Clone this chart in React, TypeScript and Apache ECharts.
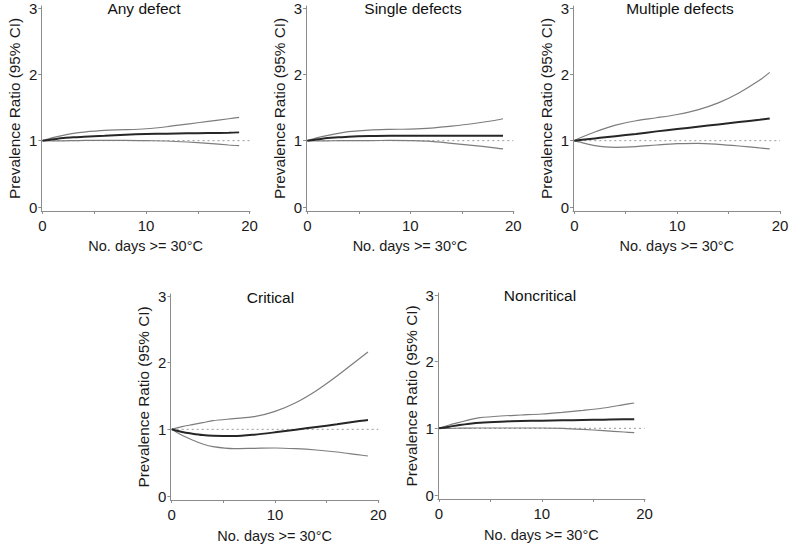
import React, { useEffect, useRef } from "react";
import * as echarts from "echarts";

// x positions (No. days >= 30°C) at which curves were read
const xs = [0, 1, 2, 3, 4, 6, 8, 10, 12, 14, 16, 18, 19];

// Any defect
const upper1 = [1.0, 1.045, 1.08, 1.11, 1.13, 1.155, 1.165, 1.18, 1.21, 1.25, 1.29, 1.33, 1.35];
const center1 = [1.0, 1.02, 1.04, 1.05, 1.06, 1.075, 1.09, 1.1, 1.105, 1.11, 1.115, 1.12, 1.125];
const lower1 = [1.0, 0.998, 0.998, 1.0, 1.003, 1.005, 1.005, 1.0, 0.995, 0.98, 0.96, 0.935, 0.925];

// Single defects
const upper2 = [1.0, 1.045, 1.08, 1.11, 1.135, 1.16, 1.17, 1.175, 1.19, 1.22, 1.255, 1.3, 1.33];
const center2 = [1.0, 1.02, 1.04, 1.05, 1.06, 1.07, 1.075, 1.075, 1.075, 1.075, 1.075, 1.075, 1.075];
const lower2 = [1.0, 0.998, 0.998, 1.0, 1.0, 1.002, 1.003, 1.0, 0.99, 0.96, 0.93, 0.895, 0.875];

// Multiple defects
const upper3 = [1.0, 1.07, 1.13, 1.185, 1.235, 1.3, 1.345, 1.395, 1.465, 1.57, 1.72, 1.91, 2.03];
const center3 = [1.0, 1.017, 1.034, 1.051, 1.068, 1.102, 1.14, 1.175, 1.21, 1.245, 1.28, 1.315, 1.335];
const lower3 = [1.0, 0.96, 0.925, 0.905, 0.9, 0.91, 0.935, 0.955, 0.96, 0.945, 0.92, 0.89, 0.875];

// Critical
const upper4 = [1.0, 1.04, 1.07, 1.1, 1.13, 1.16, 1.19, 1.27, 1.4, 1.58, 1.8, 2.04, 2.16];
const center4 = [1.0, 0.96, 0.935, 0.915, 0.905, 0.9, 0.92, 0.955, 0.995, 1.035, 1.075, 1.12, 1.14];
const lower4 = [1.0, 0.91, 0.84, 0.78, 0.74, 0.71, 0.715, 0.72, 0.71, 0.69, 0.66, 0.62, 0.6];

// Noncritical
const upper5 = [1.0, 1.05, 1.09, 1.13, 1.16, 1.185, 1.2, 1.215, 1.24, 1.27, 1.305, 1.355, 1.38];
const center5 = [1.0, 1.025, 1.05, 1.07, 1.085, 1.1, 1.11, 1.115, 1.12, 1.125, 1.13, 1.135, 1.135];
const lower5 = [1.0, 1.0, 1.002, 1.004, 1.005, 1.005, 1.005, 1.005, 1.0, 0.985, 0.965, 0.945, 0.935];

// reference line (PR = 1)
const refX = [0, 20];
const refY = [1, 1];

const titles = ["Any defect", "Single defects", "Multiple defects", "Critical", "Noncritical"];
const xTickValues = [0, 5, 10, 15, 20];
const xLabelValues = [0, 10, 20];
const yTickValues = [0, 1, 2, 3];
const xAxisName = "No. days >= 30°C";
const yAxisName = "Prevalence Ratio (95% CI)";

// layout (pixel positions of x=0, x=20, y=0, y=3 and title centre)
const layout = [
  { x0: 42.5, x20: 249.5, y0: 207, y3: 8, tx: 144, ty: 8.5 },
  { x0: 307.3, x20: 513.3, y0: 207, y3: 8, tx: 413, ty: 8.5 },
  { x0: 574.3, x20: 780, y0: 207, y3: 8, tx: 680, ty: 8.5 },
  { x0: 171.7, x20: 378.3, y0: 496, y3: 296, tx: 270.5, ty: 297.5 },
  { x0: 439, x20: 644.5, y0: 495, y3: 295, tx: 540, ty: 295.7 },
];

const curves = [
  [upper1, center1, lower1],
  [upper2, center2, lower2],
  [upper3, center3, lower3],
  [upper4, center4, lower4],
  [upper5, center5, lower5],
];

const FONT = "'Liberation Sans', Arial, Helvetica, sans-serif";
const X_MIN = -0.12;
const X_MAX = 20.05;
const Y_MIN = -0.06;
const Y_MAX = 3.03;

export default function App() {
  const ref = useRef<HTMLDivElement>(null);

  useEffect(() => {
    if (!ref.current) return;
    const chart = echarts.init(ref.current, undefined, { renderer: "svg" });

    const grids: any[] = [];
    const xAxes: any[] = [];
    const yAxes: any[] = [];
    const series: any[] = [];
    const graphics: any[] = [];

    layout.forEach((L, i) => {
      const ux = (L.x20 - L.x0) / 20;
      const uy = (L.y0 - L.y3) / 3;
      grids.push({
        left: L.x0 + X_MIN * ux,
        width: (X_MAX - X_MIN) * ux,
        top: L.y3 - (Y_MAX - 3) * uy,
        height: (Y_MAX - Y_MIN) * uy,
        containLabel: false,
      });
      xAxes.push({
        type: "value",
        gridIndex: i,
        min: X_MIN,
        max: X_MAX,
        name: xAxisName,
        nameLocation: "middle",
        nameGap: 28,
        nameTextStyle: { fontSize: 14.5, color: "#1a1a1a", fontFamily: FONT },
        axisLine: { show: true, onZero: false, lineStyle: { color: "#8c8c8c", width: 1 } },
        axisTick: { show: true, length: 3, customValues: xTickValues, lineStyle: { color: "#8c8c8c" } },
        axisLabel: { customValues: xLabelValues, fontSize: 15, color: "#1a1a1a", fontFamily: FONT, margin: 7 },
        splitLine: { show: false },
      });
      yAxes.push({
        type: "value",
        gridIndex: i,
        min: Y_MIN,
        max: Y_MAX,
        name: yAxisName,
        nameLocation: "middle",
        nameGap: 19,
        nameRotate: 90,
        nameTextStyle: { fontSize: 15.3, color: "#1a1a1a", fontFamily: FONT },
        axisLine: { show: true, onZero: false, lineStyle: { color: "#8c8c8c", width: 1 } },
        axisTick: { show: true, length: 3, customValues: yTickValues, lineStyle: { color: "#8c8c8c" } },
        axisLabel: { customValues: yTickValues, fontSize: 15, color: "#1a1a1a", fontFamily: FONT, margin: 4 },
        splitLine: { show: false },
      });

      const [up, ce, lo] = curves[i];
      series.push({
        type: "line",
        xAxisIndex: i,
        yAxisIndex: i,
        data: refX.map((x, k) => [x, refY[k]]),
        symbol: "none",
        silent: true,
        lineStyle: { color: "#9a9a9a", width: 1, type: [2, 3] },
      });
      [lo, up].forEach((arr) => {
        series.push({
          type: "line",
          xAxisIndex: i,
          yAxisIndex: i,
          data: xs.map((x, k) => [x, arr[k]]),
          symbol: "none",
          smooth: 0.3,
          silent: true,
          lineStyle: { color: "#7d7d7d", width: 1.2 },
        });
      });
      series.push({
        type: "line",
        xAxisIndex: i,
        yAxisIndex: i,
        data: xs.map((x, k) => [x, ce[k]]),
        symbol: "none",
        smooth: 0.3,
        silent: true,
        lineStyle: { color: "#262626", width: 2 },
      });

      graphics.push({
        type: "text",
        x: L.tx,
        y: L.ty,
        style: {
          text: titles[i],
          fontSize: 15.5,
          fontFamily: FONT,
          fill: "#111111",
          align: "center",
          verticalAlign: "middle",
        },
      });
    });

    chart.setOption({
      animation: false,
      backgroundColor: "#ffffff",
      grid: grids,
      xAxis: xAxes,
      yAxis: yAxes,
      series,
      graphic: graphics,
    });

    return () => chart.dispose();
  }, []);

  return (
    <div
      ref={ref}
      style={{ position: "absolute", left: 0, top: 0, width: 800, height: 555 }}
    />
  );
}
